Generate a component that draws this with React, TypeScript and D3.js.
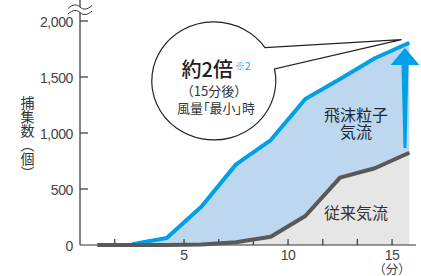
import React from "react";
import * as d3 from "d3";

// time in minutes, values in count
const minutes = [0.83, 2.5, 4.17, 5.83, 7.5, 9.17, 10.83, 12.5, 14.17, 15.83];
const dropletFlow = [0, 8, 62, 342, 720, 937, 1304, 1482, 1667, 1806];
const conventionalFlow = [0, 0, 0, 5, 25, 74, 259, 601, 685, 824];
const yTicks = [0, 500, 1000, 1500, 2000];
const xTicks = [1.67, 3.33, 5, 6.67, 8.33, 10, 11.67, 13.33, 15];
const xLabels = [5, 10, 15];

const W = 421;
const H = 276;
const font = "'Liberation Sans', Arial, 'Noto Sans CJK JP', sans-serif";
const jpFont = "'Noto Sans CJK JP', sans-serif";

export default function App() {
  const x = d3.scaleLinear().domain([0, 16.15]).range([80, 416]);
  const y = d3.scaleLinear().domain([0, 2000]).range([245, 21]);

  const rows = minutes.map((m, i) => ({ m, hi: dropletFlow[i], lo: conventionalFlow[i] }));

  const grayArea = d3.area<any>().x(d => x(d.m)).y0(y(0)).y1(d => y(d.lo));
  const blueArea = d3.area<any>().x(d => x(d.m)).y0(d => y(d.lo)).y1(d => y(d.hi));
  const blueLine = d3.line<any>().x(d => x(d.m)).y(d => y(d.hi));
  const grayLine = d3.line<any>().x(d => x(d.m)).y(d => y(d.lo));

  // big arrow
  const ax = x(15.62);
  const tipY = y(1760);
  const headY = y(1607);
  const baseY = y(866);
  const arrow = `M${ax},${tipY} L${ax + 14.5},${headY} L${ax + 3.5},${headY} L${ax + 1.5},${baseY} L${ax - 1.5},${baseY} L${ax - 3.5},${headY} L${ax - 14.5},${headY} Z`;

  // callout bubble
  const rx = 62, ry = 59;
  const p1 = [265, 47.7];
  const p2 = [274.5, 69];
  const tip = [x(15.45), y(1833)];
  const bubble = `M${p1[0]},${p1[1]} A${rx},${ry} 0 1 0 ${p2[0]},${p2[1]} L${tip[0]},${tip[1]} Z`;

  // axis break
  const bx = x(0);
  const wave = (yy: number) =>
    `M${bx - 12},${yy + 1.5} C${bx - 7},${yy - 3} ${bx - 3},${yy - 3} ${bx},${yy} S${bx + 7},${yy + 3} ${bx + 12},${yy - 1.5}`;

  return (
    <svg width={W} height={H} style={{ position: "absolute", left: 0, top: 0, background: "#fff" }}>
      <path d={grayArea(rows) || ""} fill="#e6e6e6" />
      <path d={blueArea(rows) || ""} fill="#bdd7ef" />

      {/* axes */}
      <line x1={x(0)} x2={x(0)} y1={0} y2={y(0)} stroke="#333" strokeWidth={1.2} />
      <line x1={x(0)} x2={x(16.15)} y1={y(0)} y2={y(0)} stroke="#333" strokeWidth={1.2} />
      {yTicks.map(t => (
        <g key={"y" + t}>
          {t > 0 && <line x1={x(0)} x2={x(0) + 8} y1={y(t)} y2={y(t)} stroke="#333" strokeWidth={1.2} />}
          <text x={73} y={y(t) + 5.5} textAnchor="end" fontSize={14} fill="#444" fontFamily={font} letterSpacing={-0.4}>
            {d3.format(",")(t)}
          </text>
        </g>
      ))}
      {xTicks.map(t => (
        <line key={"x" + t} x1={x(t)} x2={x(t)} y1={y(0)} y2={y(0) - 6} stroke="#333" strokeWidth={1.2} />
      ))}
      {xLabels.map(t => (
        <text key={"xl" + t} x={x(t)} y={260} textAnchor="middle" fontSize={14} fill="#444" fontFamily={font} letterSpacing={-0.4}>
          {t}
        </text>
      ))}
      <text x={x(15)} y={273.5} textAnchor="middle" fontSize={12.5} fill="#444" fontFamily={jpFont}>（分）</text>

      {/* axis break */}
      <rect x={bx - 3} y={7} width={6} height={5.5} fill="#fff" />
      <path d={wave(7)} fill="none" stroke="#333" strokeWidth={1} />
      <path d={wave(12.5)} fill="none" stroke="#333" strokeWidth={1} />

      <text x={27.5} y={96} fontSize={14} fill="#333" fontFamily={jpFont} style={{ writingMode: "vertical-rl" }}>
        捕集数（個）
      </text>

      {/* lines */}
      <path d={blueLine(rows.slice(1)) || ""} fill="none" stroke="#00a0e9" strokeWidth={4} strokeLinejoin="round" />
      <path d={grayLine(rows) || ""} fill="none" stroke="#595959" strokeWidth={4} strokeLinejoin="round" />

      <path d={arrow} fill="#00a0e9" />

      <path d={bubble} fill="#fff" stroke="#222" strokeWidth={1.2} strokeLinejoin="miter" />

      <text x={216} y={77} textAnchor="middle" fontFamily={jpFont} fill="#222">
        <tspan fontSize={20} fontWeight={500}>約2倍</tspan>
        <tspan fontSize={10} fill="#00a0e9" dy={-7} dx={2}>※2</tspan>
      </text>
      <text x={214} y={96} textAnchor="middle" fontSize={13} fill="#333" fontFamily={jpFont}>（15分後）</text>
      <text x={216} y={113} textAnchor="middle" fontSize={13} fill="#333" fontFamily={jpFont}
        style={{ fontFeatureSettings: '"palt"' }}>風量「最小」時</text>

      <text x={356} y={121} textAnchor="middle" fontSize={16} fill="#1e2a36" fontFamily={jpFont}>飛沫粒子</text>
      <text x={356} y={138} textAnchor="middle" fontSize={16} fill="#1e2a36" fontFamily={jpFont}>気流</text>
      <text x={356} y={219} textAnchor="middle" fontSize={16} fill="#333" fontFamily={jpFont}>従来気流</text>
    </svg>
  );
}
